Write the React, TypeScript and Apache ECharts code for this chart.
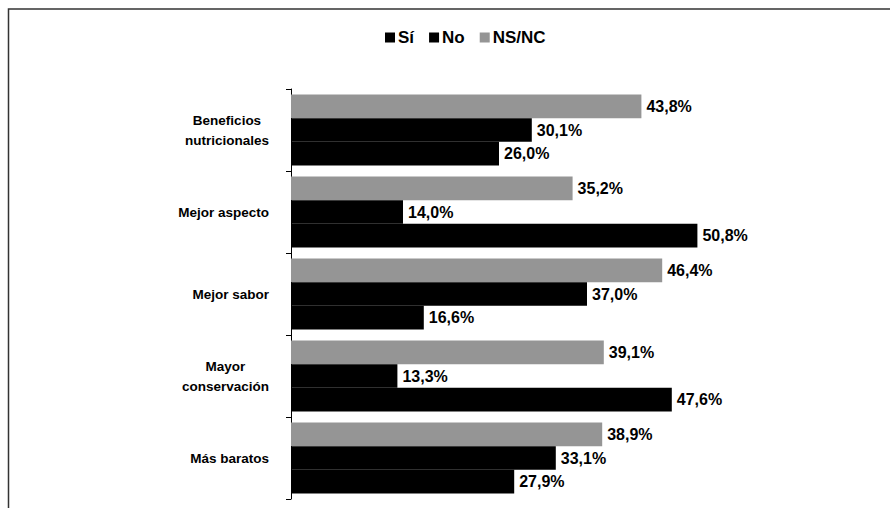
import React, { useEffect, useRef } from "react";
import * as echarts from "echarts";

const categories = ["Beneficios\nnutricionales", "Mejor aspecto", "Mejor sabor", "Mayor\nconservación", "Más baratos"];
const si = [26.0, 50.8, 16.6, 47.6, 27.9];
const no = [30.1, 14.0, 37.0, 13.3, 33.1];
const nsnc = [43.8, 35.2, 46.4, 39.1, 38.9];
const legendNames = ["Sí", "No", "NS/NC"];

const FONT = "'Liberation Sans', Arial, sans-serif";

export default function App() {
  const ref = useRef<HTMLDivElement>(null);
  useEffect(() => {
    if (!ref.current) return;
    const chart = echarts.init(ref.current, null, { renderer: "svg" });
    const fmt = (p: any) => Number(p.value).toFixed(1).replace(".", ",") + "%";
    const label = {
      show: true,
      position: "right",
      distance: 5,
      formatter: fmt,
      color: "#000",
      fontWeight: "bold",
      fontSize: 16,
      fontFamily: FONT,
    };
    const mk = (name: string, data: number[], color: string) => ({
      name,
      type: "bar",
      data,
      barGap: "0%",
      barCategoryGap: "13.4%",
      itemStyle: { color },
      label,
    });
    chart.setOption({
      animation: false,
      backgroundColor: "#fff",
      legend: {
        data: legendNames,
        left: 380,
        top: 24,
        itemWidth: 10,
        itemHeight: 10,
        itemGap: 15,
        icon: "rect",
        textStyle: { fontWeight: "bold", fontSize: 17, fontFamily: FONT, color: "#000", padding: [0, 0, 0, -2] },
      },
      grid: { left: 291, top: 89, height: 410, width: 560 },
      xAxis: { type: "value", min: 0, max: 70, show: false, splitLine: { show: false } },
      yAxis: {
        type: "category",
        data: categories,
        inverse: true,
        axisLine: { show: true, lineStyle: { color: "#000", width: 1 } },
        axisTick: { show: true, length: 5, inside: false, lineStyle: { color: "#000" } },
        axisLabel: {
          align: "right",
          margin: 22,
          formatter: (v: string) => v.split("\n").map((l) => `{a|${l}}`).join("\n"),
          rich: {
            a: { align: "center", fontWeight: "bold", fontSize: 13.5, lineHeight: 20, fontFamily: FONT, color: "#000" },
          },
        },
      },
      graphic: [
        {
          type: "rect",
          shape: { x: 8.5, y: 9, width: 1000, height: 1000 },
          style: { fill: "none", stroke: "#333", lineWidth: 1.5 },
          silent: true,
        },
      ],
      series: [
        mk("NS/NC", nsnc, "#959595"),
        mk("No", no, "#000"),
        mk("Sí", si, "#000"),
      ],
    });
    return () => chart.dispose();
  }, []);
  return <div ref={ref} style={{ position: "absolute", left: 0, top: 0, width: 890, height: 508 }} />;
}
